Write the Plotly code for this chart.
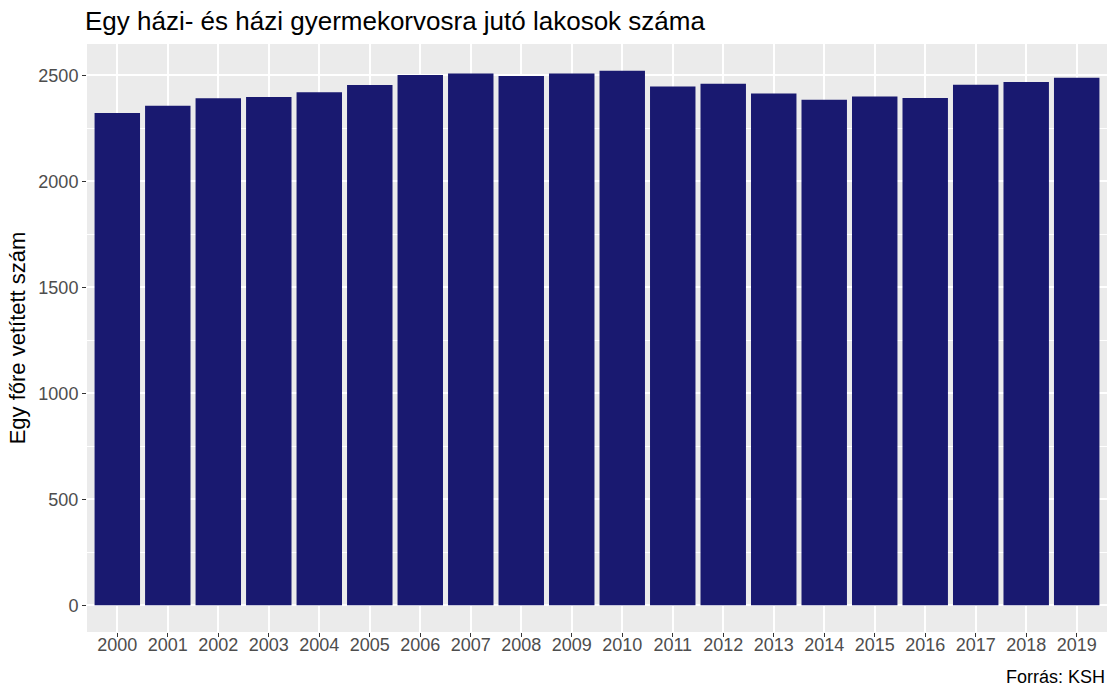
import plotly.graph_objects as go

# Lakosok száma egy háziorvosra (KSH), évenként
years = [str(y) for y in range(2000, 2020)]
residents = [2323, 2357, 2392, 2398, 2420, 2455, 2502, 2509, 2497, 2509,
             2522, 2447, 2461, 2414, 2385, 2400, 2393, 2456, 2469, 2489]
y_ticks = [0, 500, 1000, 1500, 2000, 2500]

FONT = "Liberation Sans, Arial, sans-serif"

fig = go.Figure(
    go.Bar(
        x=years,
        y=residents,
        marker=dict(color="#191970", line=dict(width=0)),
        hoverinfo="x+y",
    )
)

top = max(residents) * 1.05
bottom = -max(residents) * 0.05

fig.update_layout(
    width=1115,
    height=687,
    margin=dict(l=87, r=8, t=44, b=55),
    paper_bgcolor="white",
    plot_bgcolor="#EBEBEB",
    bargap=0.1,
    showlegend=False,
    font=dict(family=FONT, color="#4D4D4D", size=18),
    title=dict(
        text="Egy házi- és házi gyermekorvosra jutó lakosok száma",
        x=85 / 1115,
        xanchor="left",
        y=1 - 21 / 687,
        yanchor="middle",
        font=dict(family=FONT, size=26, color="black"),
    ),
    xaxis=dict(
        type="category",
        range=[-0.6, len(years) - 0.4],
        showgrid=True,
        gridcolor="white",
        gridwidth=1.6,
        ticks="outside",
        ticklen=4,
        tickcolor="#333333",
        tickwidth=1.3,
        tickfont=dict(size=18, color="#4D4D4D"),
        ticklabelstandoff=-8,
        zeroline=False,
        showline=False,
    ),
    yaxis=dict(
        range=[bottom, top],
        tickvals=y_ticks,
        showgrid=True,
        gridcolor="white",
        gridwidth=1.6,
        minor=dict(dtick=250, tick0=250, showgrid=True, gridcolor="white", gridwidth=0.8),
        ticks="outside",
        ticklen=4,
        tickcolor="#333333",
        tickwidth=1.3,
        tickfont=dict(size=18, color="#4D4D4D"),
        zeroline=False,
        showline=False,
        title=dict(
            text="Egy főre vetített szám",
            font=dict(family=FONT, size=22, color="black"),
            standoff=6,
        ),
    ),
    annotations=[
        dict(
            text="Forrás: KSH",
            xref="paper",
            yref="paper",
            x=1,
            y=0,
            xanchor="right",
            yanchor="middle",
            showarrow=False,
            font=dict(family=FONT, size=18, color="black"),
            yshift=-45,
        )
    ],
)

fig.write_html("out.html")
